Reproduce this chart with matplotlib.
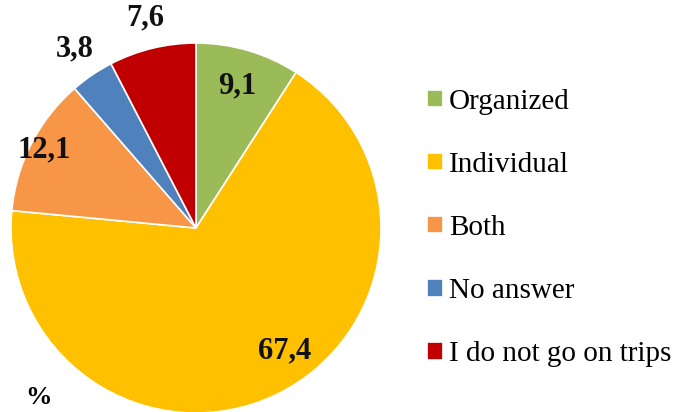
import matplotlib
matplotlib.use('Agg')
import matplotlib.pyplot as plt
import numpy as np

categories = ['Organized', 'Individual', 'Both', 'No answer', 'I do not go on trips']
shares = [9.1, 67.4, 12.1, 3.8, 7.6]
value_labels = ['9,1', '67,4', '12,1', '3,8', '7,6']

colors = ['#9BBB59', '#FFC000', '#F79646', '#4F81BD', '#C00000']
# label radius and position along each wedge (0 = start, 1 = end)
label_r = [0.80, 0.82, 0.92, 1.17, 1.17]
label_frac = [0.5, 0.46, 0.5, 0.5, 0.5]

plt.rcParams['font.family'] = ['Liberation Serif', 'DejaVu Serif']

fig = plt.figure(figsize=(6.85, 4.12), dpi=100)
ax = fig.add_axes([11 / 685, -1 / 412, 370 / 685, 370 / 412])

wedges, _ = ax.pie(shares, colors=colors, startangle=90, counterclock=False,
                   radius=1, wedgeprops=dict(edgecolor='white', linewidth=1.2))
ax.set_xlim(-1, 1)
ax.set_ylim(-1, 1)
ax.set_aspect('equal')
ax.axis('off')

for w, txt, r, f in zip(wedges, value_labels, label_r, label_frac):
    # wedges drawn clockwise: theta2 is the start, theta1 the end
    ang = np.deg2rad(w.theta2 - f * (w.theta2 - w.theta1))
    ax.text(r * np.cos(ang), r * np.sin(ang), txt, ha='center', va='center',
            fontsize=22, fontweight='bold', color='#111111', clip_on=False)

fig.text(38 / 685, 1 - 398 / 412, '%', fontsize=19, fontweight='bold',
         ha='center', va='center')

fig.legend(wedges, categories, loc='center left',
           bbox_to_anchor=(427 / 685, 1 - 228 / 412), frameon=False,
           fontsize=21, handlelength=0.55, handleheight=0.55,
           handletextpad=0.2, labelspacing=1.27, borderpad=0,
           borderaxespad=0)

fig.savefig('out.png', dpi=100)
